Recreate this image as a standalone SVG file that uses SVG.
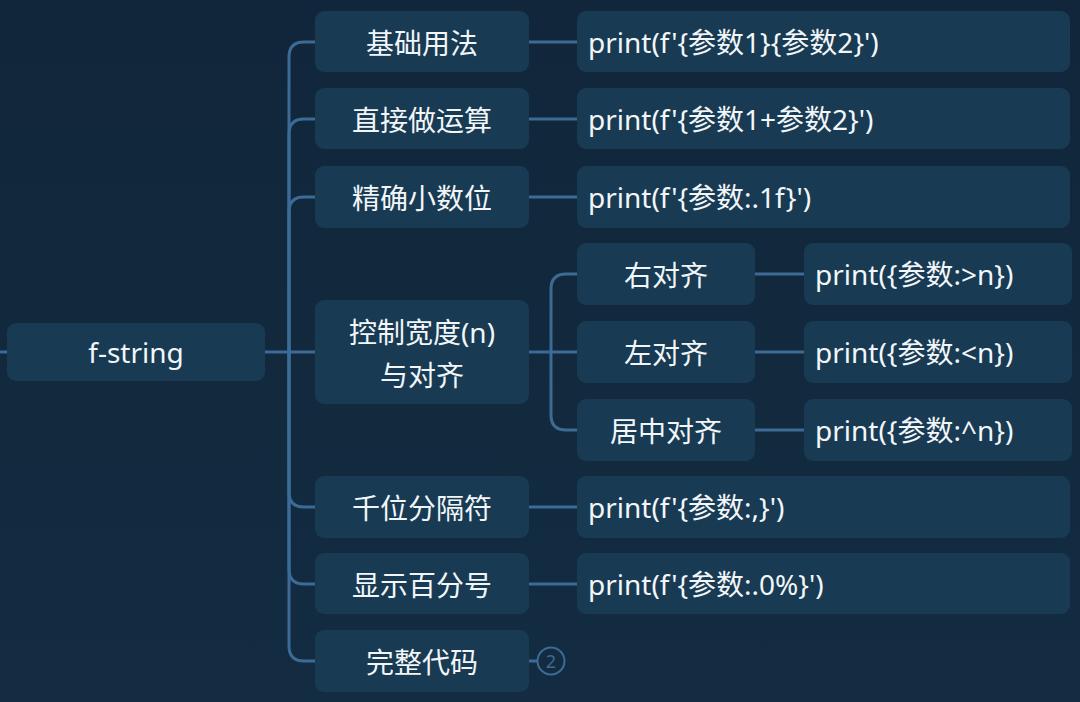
<svg xmlns="http://www.w3.org/2000/svg" width="1080" height="702" viewBox="0 0 1080 702">
<defs>
<linearGradient id="bg" x1="0" y1="0" x2="0" y2="1">
<stop offset="0" stop-color="#11263a"/>
<stop offset="1" stop-color="#132c41"/>
</linearGradient>
</defs>
<style>
.n{fill:#183b53;}
.t{fill:#f2f6f9;font-family:"Noto Sans","Noto Sans CJK SC",sans-serif;font-size:28px;}
.c{text-anchor:middle;}
.l{fill:none;stroke:#3b6b96;stroke-width:3;}
</style>
<rect width="1080" height="702" fill="url(#bg)"/>
<g id="connectors">
<path class="l" d="M0,352 H7"/>
<path class="l" d="M265,352 H315"/>
<path class="l" d="M289,352 V57 Q289,42 304,42 H315"/>
<path class="l" d="M289,352 V134 Q289,119 304,119 H315"/>
<path class="l" d="M289,352 V212 Q289,197 304,197 H315"/>
<path class="l" d="M289,352 V492 Q289,507 304,507 H315"/>
<path class="l" d="M289,352 V569 Q289,584 304,584 H315"/>
<path class="l" d="M289,352 V646 Q289,661 304,661 H315"/>
<path class="l" d="M529,42 H577"/>
<path class="l" d="M529,119 H577"/>
<path class="l" d="M529,197 H577"/>
<path class="l" d="M529,507 H577"/>
<path class="l" d="M529,584 H577"/>
<path class="l" d="M529,352 H577"/>
<path class="l" d="M551,352 V289 Q551,274 566,274 H577"/>
<path class="l" d="M551,352 V415 Q551,430 566,430 H577"/>
<path class="l" d="M755,274 H804"/>
<path class="l" d="M755,352 H804"/>
<path class="l" d="M755,430 H804"/>
<path class="l" d="M529,661 H538"/>
</g>
<g id="root"><rect class="n" x="7" y="323" width="258" height="58" rx="9"/><text class="t c" x="136" y="363">f-string</text></g>
<g id="n1"><rect class="n" x="315" y="11" width="214" height="61" rx="9"/><text class="t c" x="422" y="54">基础用法</text></g>
<g id="n2"><rect class="n" x="315" y="88" width="214" height="61" rx="9"/><text class="t c" x="422" y="131">直接做运算</text></g>
<g id="n3"><rect class="n" x="315" y="166" width="214" height="62" rx="9"/><text class="t c" x="422" y="209">精确小数位</text></g>
<g id="n4"><rect class="n" x="315" y="300" width="214" height="104" rx="9"/><text class="t c" x="422" y="343">控制宽度(n)</text><text class="t c" x="422" y="386">与对齐</text></g>
<g id="n5"><rect class="n" x="315" y="476" width="214" height="62" rx="9"/><text class="t c" x="422" y="519">千位分隔符</text></g>
<g id="n6"><rect class="n" x="315" y="553" width="214" height="61" rx="9"/><text class="t c" x="422" y="596">显示百分号</text></g>
<g id="n7"><rect class="n" x="315" y="630" width="214" height="62" rx="9"/><text class="t c" x="422" y="673">完整代码</text></g>
<g id="badge"><circle cx="551" cy="661" r="13.5" fill="none" stroke="#3b6b96" stroke-width="2"/><text x="551" y="668" text-anchor="middle" fill="#3b6b96" font-family="Noto Sans, sans-serif" font-size="18">2</text></g>
<g id="c1"><rect class="n" x="577" y="11" width="493" height="61" rx="9"/><text class="t" x="588" y="53">print(f'{参数1}{参数2}')</text></g>
<g id="c2"><rect class="n" x="577" y="88" width="493" height="61" rx="9"/><text class="t" x="588" y="130">print(f'{参数1+参数2}')</text></g>
<g id="c3"><rect class="n" x="577" y="166" width="493" height="62" rx="9"/><text class="t" x="588" y="208">print(f'{参数:.1f}')</text></g>
<g id="c5"><rect class="n" x="577" y="476" width="493" height="62" rx="9"/><text class="t" x="588" y="518">print(f'{参数:,}')</text></g>
<g id="c6"><rect class="n" x="577" y="553" width="493" height="61" rx="9"/><text class="t" x="588" y="595">print(f'{参数:.0%}')</text></g>
<g id="s1"><rect class="n" x="577" y="243" width="178" height="62" rx="9"/><text class="t c" x="666" y="286">右对齐</text></g>
<g id="s2"><rect class="n" x="577" y="321" width="178" height="62" rx="9"/><text class="t c" x="666" y="364">左对齐</text></g>
<g id="s3"><rect class="n" x="577" y="399" width="178" height="62" rx="9"/><text class="t c" x="666" y="442">居中对齐</text></g>
<g id="sc1"><rect class="n" x="804" y="243" width="268" height="62" rx="9"/><text class="t" x="815" y="285">print({参数:&gt;n})</text></g>
<g id="sc2"><rect class="n" x="804" y="321" width="268" height="62" rx="9"/><text class="t" x="815" y="363">print({参数:&lt;n})</text></g>
<g id="sc3"><rect class="n" x="804" y="399" width="268" height="62" rx="9"/><text class="t" x="815" y="441">print({参数:^n})</text></g>
</svg>
